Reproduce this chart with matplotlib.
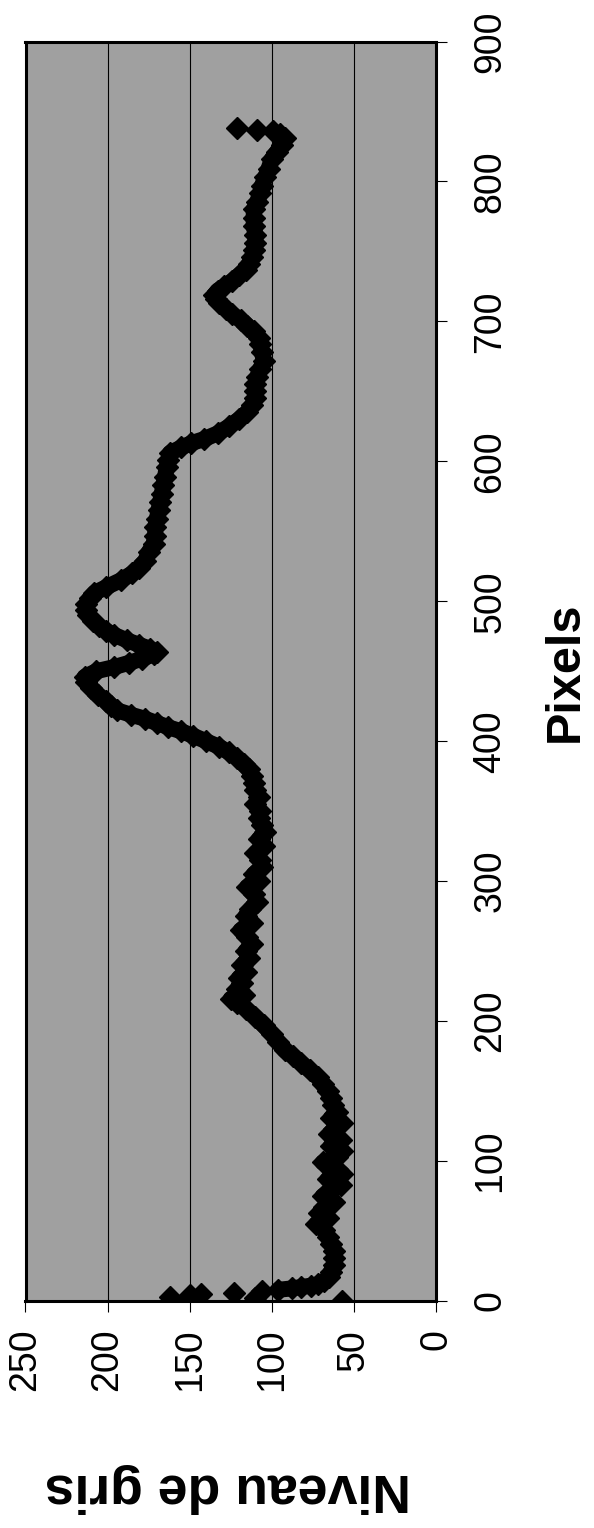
import matplotlib
matplotlib.use("Agg")
import matplotlib.pyplot as plt

plt.rcParams['font.family'] = ['Liberation Sans', 'DejaVu Sans']

# Data (original chart: x = Pixels, y = Niveau de gris), figure is rotated 90° CCW
pixels = [0, 1, 2, 3, 4, 5, 6, 7, 8, 9, 10, 11, 12, 14, 17, 21, 26, 31, 36, 41,
          46, 51, 55, 59, 63, 67, 71, 75, 79, 83, 87, 91, 95, 99, 103, 107, 111, 115, 119, 123,
          127, 131, 135, 140, 145, 150, 155, 160, 165, 170, 175, 179, 185, 191, 197, 203, 209, 213, 216, 219,
          223, 227, 231, 235, 240, 245, 250, 255, 260, 265, 270, 275, 280, 285, 291, 296, 300, 305, 310, 315,
          320, 325, 330, 335, 340, 345, 350, 355, 360, 365, 370, 375, 380, 384, 388, 392, 396, 400, 404, 407,
          410, 413, 416, 419, 422, 425, 429, 433, 438, 442, 446, 450, 453, 456, 459, 462, 464, 466, 469, 472,
          476, 479, 482, 486, 490, 494, 498, 502, 506, 510, 515, 520, 524, 529, 535, 541, 547, 553, 559, 565,
          571, 577, 583, 589, 596, 601, 606, 610, 613, 616, 620, 625, 630, 635, 640, 645, 650, 655, 660, 666,
          672, 678, 684, 688, 693, 697, 701, 705, 709, 713, 716, 719, 722, 725, 729, 733, 737, 741, 746, 751,
          756, 762, 768, 774, 780, 785, 792, 797, 803, 809, 816, 821, 826, 831, 834, 836, 837, 838]
niveau = [57, 150, 110, 162, 150, 143, 123, 106, 96, 88, 82, 76, 72, 68, 65, 64, 62, 62, 62, 64,
          66, 68, 73, 66, 71, 68, 62, 69, 64, 58, 66, 57, 62, 69, 60, 57, 64, 58, 65, 62,
          57, 64, 60, 63, 64, 66, 69, 72, 77, 82, 87, 92, 96, 100, 105, 110, 116, 121, 125, 117,
          121, 118, 120, 116, 118, 114, 116, 112, 115, 119, 112, 116, 113, 109, 111, 115, 108, 111, 106, 107,
          110, 105, 108, 104, 106, 108, 107, 110, 108, 110, 111, 112, 114, 117, 121, 126, 132, 140, 148, 155,
          163, 170, 177, 186, 194, 198, 201, 206, 210, 213, 214, 207, 196, 187, 179, 172, 170, 174, 181, 188,
          196, 201, 205, 209, 212, 213, 213, 211, 208, 201, 192, 185, 181, 177, 175, 172, 171, 171, 170, 169,
          168, 167, 166, 165, 164, 163, 162, 155, 149, 141, 133, 126, 120, 115, 112, 110, 110, 110, 109, 107,
          105, 106, 107, 108, 111, 115, 119, 124, 128, 132, 134, 135, 133, 129, 124, 120, 116, 114, 112, 111,
          110, 110, 111, 111, 111, 109, 107, 106, 104, 102, 100, 97, 94, 92, 95, 99, 109, 121]

niveau_ticks = [0, 50, 100, 150, 200, 250]
pixel_ticks = [0, 100, 200, 300, 400, 500, 600, 700, 800, 900]

W, H = 594, 1528
fig = plt.figure(figsize=(W / 100, H / 100), dpi=100)
fig.patch.set_facecolor('white')

left, right, top, bottom = 25.5, 436, 41.5, 1301
ax = fig.add_axes([left / W, 1 - bottom / H, (right - left) / W, (bottom - top) / H])
ax.set_facecolor('#a0a0a0')

# continuous run of the profile (isolated start/end samples are drawn as markers only)
i0 = pixels.index(8)
i1 = pixels.index(831) + 1
ax.plot(niveau[i0:i1], pixels[i0:i1], color='black', lw=11.5, solid_joinstyle='round',
        solid_capstyle='round', zorder=3)
ax.plot(niveau, pixels, ls='none', marker='D', ms=11.5, color='black', zorder=4)

ax.set_xlim(250, 0)
ax.set_ylim(0, 900)

ax.set_xticks(niveau_ticks)
ax.set_xticklabels([str(v) for v in niveau_ticks], rotation=90, fontsize=27)
ax.yaxis.tick_right()
ax.set_yticks(pixel_ticks)
ax.set_yticklabels([str(v) for v in pixel_ticks], rotation=90, fontsize=27, va='center')

ax.tick_params(axis='x', direction='out', length=8, width=0.8, pad=12, colors='black')
ax.tick_params(axis='y', direction='out', length=8, width=0.8, pad=18, colors='black')

for xv in [50, 100, 150, 200]:
    ax.axvline(xv, color='black', lw=0.8, zorder=1)

for s in ax.spines.values():
    s.set_color('black')
    s.set_linewidth(2.2)

fig.text(565 / W, 1 - 672 / H, 'Pixels', rotation=90, fontsize=35, fontweight='bold',
         ha='center', va='center')
fig.text(228 / W, 1 - 1488 / H, 'Niveau de gris', rotation=180, fontsize=38.5, fontweight='bold',
         ha='center', va='center')

fig.savefig('out.png', dpi=100)
